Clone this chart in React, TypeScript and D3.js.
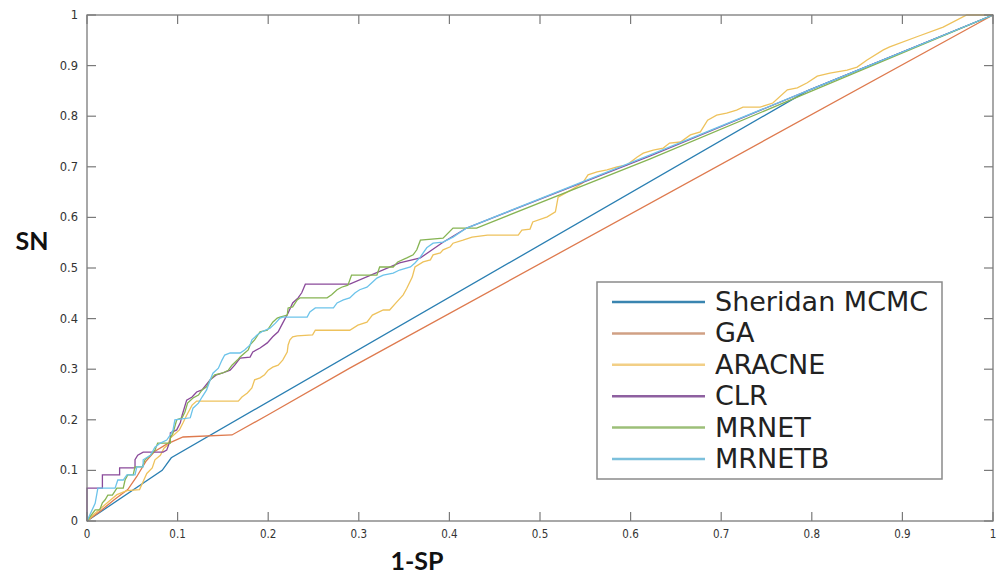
import React from "react";
import * as d3 from "d3";

type P = [number, number];

const seriesNames = ["Sheridan MCMC", "GA", "ARACNE", "CLR", "MRNET", "MRNETB"];
const seriesColors = ["#2a7fb2", "#de7a4e", "#eec25c", "#8a4a9a", "#86b453", "#6cc3ea"];
const legendColors = ["#3a85b0", "#d0a084", "#f2cf86", "#8e60a0", "#9cbf78", "#7cc0dc"];

const xTicks = [0, 0.1, 0.2, 0.3, 0.4, 0.5, 0.6, 0.7, 0.8, 0.9, 1];
const yTicks = [0, 0.1, 0.2, 0.3, 0.4, 0.5, 0.6, 0.7, 0.8, 0.9, 1];
const xTickLabels = ["0", "0.1", "0.2", "0.3", "0.4", "0.5", "0.6", "0.7", "0.8", "0.9", "1"];
const yTickLabels = ["0", "0.1", "0.2", "0.3", "0.4", "0.5", "0.6", "0.7", "0.8", "0.9", "1"];

const sheridan: P[] = [[0, 0], [0.083, 0.1], [0.093, 0.125], [0.795, 0.85], [1, 1]];

const ga: P[] = [
  [0, 0], [0.015, 0.02], [0.03, 0.042], [0.045, 0.062], [0.055, 0.088], [0.065, 0.118],
  [0.075, 0.138], [0.088, 0.152], [0.106, 0.166], [0.16, 0.17], [0.2, 0.21], [0.29, 0.302], [1, 1],
];

const aracne: P[] = [
  [0, 0], [0.008, 0.014], [0.016, 0.026], [0.025, 0.04], [0.033, 0.052], [0.044, 0.06], [0.058, 0.062],
  [0.062, 0.078], [0.066, 0.094], [0.072, 0.105], [0.075, 0.121], [0.081, 0.13], [0.085, 0.144],
  [0.089, 0.15], [0.092, 0.164], [0.097, 0.172], [0.102, 0.18], [0.106, 0.194], [0.11, 0.209],
  [0.116, 0.229], [0.121, 0.237], [0.167, 0.237], [0.171, 0.245], [0.177, 0.253], [0.182, 0.263],
  [0.185, 0.279], [0.191, 0.283], [0.196, 0.289], [0.2, 0.298], [0.205, 0.304], [0.211, 0.308],
  [0.216, 0.318], [0.221, 0.334], [0.222, 0.348], [0.224, 0.358], [0.227, 0.364], [0.232, 0.366],
  [0.249, 0.368], [0.252, 0.377], [0.29, 0.377], [0.299, 0.387], [0.309, 0.393], [0.315, 0.407],
  [0.327, 0.417], [0.334, 0.417], [0.342, 0.433], [0.349, 0.447], [0.353, 0.46], [0.359, 0.482],
  [0.362, 0.502], [0.371, 0.512], [0.379, 0.516], [0.382, 0.526], [0.39, 0.53], [0.393, 0.536],
  [0.401, 0.542], [0.404, 0.549], [0.415, 0.555], [0.425, 0.561], [0.442, 0.565], [0.476, 0.565],
  [0.48, 0.575], [0.489, 0.577], [0.492, 0.591], [0.508, 0.601], [0.517, 0.611], [0.52, 0.64],
  [0.535, 0.655], [0.547, 0.668], [0.553, 0.684], [0.563, 0.69], [0.574, 0.694], [0.585, 0.7],
  [0.596, 0.704], [0.607, 0.719], [0.614, 0.727], [0.625, 0.733], [0.636, 0.737], [0.643, 0.747],
  [0.655, 0.749], [0.666, 0.763], [0.677, 0.769], [0.685, 0.792], [0.695, 0.802], [0.706, 0.806],
  [0.717, 0.812], [0.724, 0.818], [0.743, 0.818], [0.757, 0.826], [0.773, 0.852], [0.784, 0.856],
  [0.795, 0.866], [0.806, 0.879], [0.82, 0.885], [0.839, 0.891], [0.85, 0.897], [0.861, 0.911],
  [0.879, 0.931], [0.886, 0.937], [0.916, 0.957], [0.945, 0.976], [0.971, 1], [1, 1],
];

const clr: P[] = [
  [0, 0], [0, 0.065], [0.017, 0.065], [0.017, 0.091], [0.036, 0.091], [0.036, 0.105], [0.053, 0.105],
  [0.053, 0.121], [0.056, 0.13], [0.062, 0.136], [0.084, 0.136], [0.088, 0.14], [0.092, 0.16],
  [0.092, 0.174], [0.099, 0.18], [0.103, 0.194], [0.105, 0.209], [0.11, 0.239], [0.116, 0.245],
  [0.121, 0.255], [0.127, 0.259], [0.136, 0.279], [0.143, 0.289], [0.149, 0.292], [0.158, 0.298],
  [0.163, 0.308], [0.169, 0.322], [0.18, 0.324], [0.183, 0.334], [0.191, 0.342], [0.199, 0.352],
  [0.205, 0.364], [0.211, 0.374], [0.216, 0.391], [0.222, 0.411], [0.227, 0.431], [0.233, 0.441],
  [0.237, 0.451], [0.241, 0.468], [0.29, 0.468], [0.345, 0.51], [0.368, 0.52], [0.393, 0.551],
  [0.419, 0.579], [0.621, 0.721], [0.795, 0.85], [1, 1],
];

const mrnet: P[] = [
  [0, 0], [0.009, 0.022], [0.014, 0.022], [0.017, 0.036], [0.02, 0.042], [0.023, 0.051], [0.028, 0.051],
  [0.033, 0.065], [0.04, 0.065], [0.042, 0.081], [0.045, 0.091], [0.051, 0.091], [0.053, 0.107],
  [0.061, 0.107], [0.064, 0.121], [0.07, 0.13], [0.075, 0.14], [0.078, 0.154], [0.092, 0.154],
  [0.092, 0.164], [0.095, 0.174], [0.099, 0.2], [0.105, 0.204], [0.108, 0.215], [0.111, 0.233],
  [0.117, 0.243], [0.123, 0.249], [0.127, 0.259], [0.132, 0.265], [0.136, 0.279], [0.141, 0.289],
  [0.149, 0.292], [0.156, 0.298], [0.16, 0.308], [0.166, 0.318], [0.169, 0.324], [0.174, 0.332],
  [0.178, 0.338], [0.18, 0.348], [0.185, 0.358], [0.191, 0.374], [0.199, 0.377], [0.205, 0.393],
  [0.21, 0.401], [0.213, 0.403], [0.221, 0.407], [0.222, 0.421], [0.227, 0.423], [0.232, 0.437],
  [0.235, 0.441], [0.265, 0.441], [0.27, 0.447], [0.276, 0.457], [0.281, 0.462], [0.288, 0.466],
  [0.292, 0.486], [0.32, 0.486], [0.323, 0.502], [0.338, 0.502], [0.343, 0.512], [0.353, 0.52],
  [0.36, 0.526], [0.364, 0.536], [0.368, 0.555], [0.393, 0.559], [0.404, 0.579], [0.43, 0.579],
  [0.621, 0.715], [0.795, 0.846], [1, 1],
];

const mrnetb: P[] = [
  [0, 0], [0.009, 0.035], [0.012, 0.065], [0.031, 0.065], [0.034, 0.081], [0.04, 0.081], [0.044, 0.091],
  [0.053, 0.091], [0.055, 0.107], [0.062, 0.107], [0.062, 0.121], [0.07, 0.13], [0.075, 0.146],
  [0.081, 0.154], [0.088, 0.16], [0.092, 0.17], [0.095, 0.18], [0.097, 0.2], [0.114, 0.204],
  [0.117, 0.223], [0.123, 0.233], [0.127, 0.245], [0.132, 0.259], [0.136, 0.279], [0.139, 0.292],
  [0.145, 0.302], [0.149, 0.318], [0.152, 0.328], [0.158, 0.332], [0.169, 0.332], [0.174, 0.338],
  [0.18, 0.348], [0.182, 0.358], [0.188, 0.368], [0.193, 0.374], [0.202, 0.381], [0.208, 0.391],
  [0.213, 0.401], [0.216, 0.403], [0.243, 0.403], [0.246, 0.413], [0.252, 0.421], [0.272, 0.421],
  [0.276, 0.431], [0.283, 0.437], [0.29, 0.441], [0.296, 0.451], [0.301, 0.457], [0.309, 0.462],
  [0.315, 0.472], [0.32, 0.48], [0.327, 0.486], [0.338, 0.49], [0.345, 0.496], [0.357, 0.502],
  [0.362, 0.51], [0.368, 0.522], [0.375, 0.54], [0.382, 0.549], [0.393, 0.551], [0.404, 0.561],
  [0.419, 0.579], [0.621, 0.723], [0.795, 0.85], [1, 1],
];

const allSeries = [sheridan, ga, aracne, clr, mrnet, mrnetb];

const W = 1000;
const H = 576;
const left = 87;
const right = 993;
const top = 15;
const bottom = 521;

export default function App() {
  const x = d3.scaleLinear().domain([0, 1]).range([left, right]);
  const y = d3.scaleLinear().domain([0, 1]).range([bottom, top]);
  const line = d3
    .line<P>()
    .x((d) => x(d[0]))
    .y((d) => y(d[1]));

  const tickLen = 9;
  const axisColor = "#7a7a7a";
  const lx0 = 612;
  const lx1 = 705;
  const ly0 = 302;
  const lstep = 31.4;

  return (
    <svg
      width={W}
      height={H}
      style={{ position: "absolute", left: 0, top: 0, background: "#fff" }}
    >
      <rect x={0} y={0} width={W} height={H} fill="#fff" />
      {/* series */}
      <g fill="none">
        {allSeries.map((s, i) => (
          <path key={i} d={line(s) || ""} stroke={seriesColors[i]} strokeWidth={1.3} />
        ))}
      </g>
      {/* frame */}
      <rect
        x={left}
        y={top}
        width={right - left}
        height={bottom - top}
        fill="none"
        stroke={axisColor}
        strokeWidth={1.3}
      />
      {/* ticks */}
      <g stroke={axisColor} strokeWidth={1.2}>
        {xTicks.map((t, i) => (
          <g key={"xt" + i}>
            <line x1={x(t)} x2={x(t)} y1={bottom} y2={bottom - tickLen} />
            <line x1={x(t)} x2={x(t)} y1={top} y2={top + tickLen} />
          </g>
        ))}
        {yTicks.map((t, i) => (
          <g key={"yt" + i}>
            <line x1={left} x2={left + tickLen} y1={y(t)} y2={y(t)} />
            <line x1={right} x2={right - tickLen} y1={y(t)} y2={y(t)} />
          </g>
        ))}
      </g>
      <g
        fontFamily="'DejaVu Sans Condensed', 'DejaVu Sans', sans-serif"
        fontSize={11.5}
        fill="#333"
      >
        {xTicks.map((t, i) => (
          <text key={"xl" + i} x={x(t)} y={bottom + 17} textAnchor="middle">
            {xTickLabels[i]}
          </text>
        ))}
      </g>
      <g fontFamily="'DejaVu Sans', sans-serif" fontSize={11.5} fill="#333">
        {yTicks.map((t, i) => (
          <text key={"yl" + i} x={left - 9} y={y(t) + 4} textAnchor="end">
            {yTickLabels[i]}
          </text>
        ))}
      </g>
      {/* axis labels */}
      <text
        x={32}
        y={250}
        textAnchor="middle"
        fontFamily="Lato, 'Open Sans', sans-serif"
        fontWeight="bold"
        fontSize={25}
        fill="#111"
      >
        SN
      </text>
      <text
        x={417}
        y={570}
        textAnchor="middle"
        fontFamily="Lato, 'Open Sans', sans-serif"
        fontWeight="bold"
        fontSize={25}
        fill="#111"
      >
        1-SP
      </text>
      {/* legend */}
      <rect x={597} y={282} width={345} height={197} fill="#fff" stroke="#8a8a8a" strokeWidth={1.5} />
      {seriesNames.map((n, i) => (
        <g key={"lg" + i}>
          <line
            x1={lx0}
            x2={lx1}
            y1={ly0 + i * lstep}
            y2={ly0 + i * lstep}
            stroke={legendColors[i]}
            strokeWidth={2.5}
          />
          <text
            x={715}
            y={ly0 + i * lstep + 9}
            fontFamily="'DejaVu Sans', sans-serif"
            fontSize={27}
            fill="#222"
          >
            {n}
          </text>
        </g>
      ))}
    </svg>
  );
}
